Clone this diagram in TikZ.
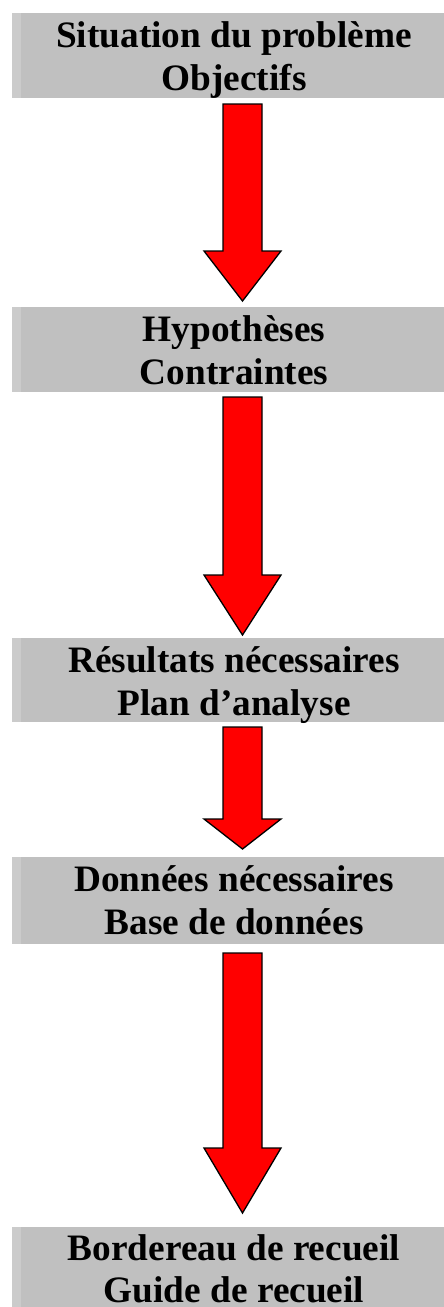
\documentclass[tikz,border=0pt]{standalone}
\usepackage{fontspec}
\setmainfont{Liberation Serif}
\begin{document}
\begin{tikzpicture}[x=1pt,y=1pt,
  boxfill/.style={fill={rgb,255:red,192;green,192;blue,192}, draw=none, rectangle, inner sep=0pt, anchor=north west, minimum width=432pt},
  stripfill/.style={fill={rgb,255:red,203;green,203;blue,203}, draw=none},
  lbl/.style={anchor=base, inner sep=0pt, font=\fontsize{37.3}{43}\selectfont\bfseries},
  arr/.style={fill={rgb,255:red,255;green,0;blue,0}, draw=black, line width=1.3pt, line join=miter}]
\useasboundingbox (0,0) rectangle (444,-1307);
\newcommand{\redarrow}[3]{\draw[arr] (223,-#1) -- (262,-#1) -- (262,-#2) -- (281,-#2) -- (242.5,-#3) -- (204,-#2) -- (223,-#2) -- cycle;}
% boxes
\node[boxfill, minimum height=85pt] (b1) at (12,-13) {};
\node[boxfill, minimum height=85pt] (b2) at (12,-307) {};
\node[boxfill, minimum height=84pt] (b3) at (12,-638) {};
\node[boxfill, minimum height=87pt] (b4) at (12,-857) {};
\node[boxfill, minimum height=80pt] (b5) at (12,-1227) {};
\foreach \b in {b1,b2,b3,b4,b5}{\fill[stripfill] (\b.north west) rectangle ([xshift=9pt]\b.south west);}
% labels
\node[lbl] (t1a) at (234,-47) {Situation du problème};
\node[lbl] (t1b) at (234,-90) {Objectifs};
\node[lbl] (t2a) at (234,-341) {Hypothèses};
\node[lbl] (t2b) at (234,-384) {Contraintes};
\node[lbl] (t3a) at (234,-672) {Résultats nécessaires};
\node[lbl] (t3b) at (234,-715) {Plan d’analyse};
\node[lbl] (t4a) at (234,-891) {Données nécessaires};
\node[lbl] (t4b) at (234,-934) {Base de données};
\node[lbl] (t5a) at (234,-1260) {Bordereau de recueil};
\node[lbl] (t5b) at (234,-1302) {Guide de recueil};
% arrows
\redarrow{104}{251}{301}
\redarrow{397}{575}{635}
\redarrow{727}{819}{849}
\redarrow{953}{1148}{1213}
\end{tikzpicture}
\end{document}
